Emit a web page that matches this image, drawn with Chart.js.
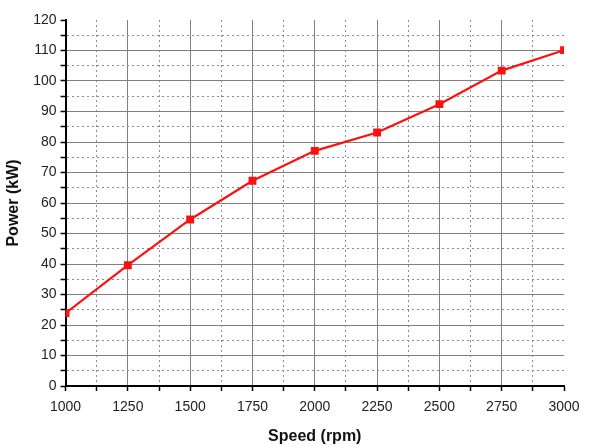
<!DOCTYPE html>
<html>
<head>
<meta charset="utf-8">
<script src="https://cdn.jsdelivr.net/npm/chart.js@4/dist/chart.umd.min.js"></script>
<style>
  html, body { margin: 0; padding: 0; background: #fff; }
  #wrap { width: 602px; height: 448px; }
</style>
</head>
<body>
<div id="wrap"><canvas id="chart"></canvas></div>
<script>
'use strict';

const speeds = [1000, 1250, 1500, 1750, 2000, 2250, 2500, 2750, 3000];
const power = [23.9, 39.6, 54.6, 67.3, 77.1, 83.1, 92.4, 103.4, 110.1];
const xTitle = 'Speed (rpm)';
const yTitle = 'Power (kW)';

const FONT = 'Liberation Sans, Arial, sans-serif';

function gridColor(max, major) {
  return ctx => {
    const v = ctx.tick && ctx.tick.value;
    if (v === undefined || v === max) return 'rgba(0,0,0,0)';
    return v % major === 0 ? '#808080' : '#8c8c8c';
  };
}
function gridDash(major) {
  return ctx => {
    const v = ctx.tick && ctx.tick.value;
    return v !== undefined && v % major === 0 ? [] : [2, 3];
  };
}

new Chart(document.getElementById('chart'), {
  type: 'line',
  data: {
    datasets: [{
      data: speeds.map((s, i) => ({ x: s, y: power[i] })),
      borderColor: '#ff1010',
      backgroundColor: '#ff1010',
      borderWidth: 2.2,
      pointStyle: 'rect',
      pointRadius: 4,
      pointHoverRadius: 4,
      tension: 0,
    }],
  },
  options: {
    responsive: true,
    maintainAspectRatio: false,
    animation: false,
    layout: { padding: { top: 20, right: 38, left: 4, bottom: 2 } },
    plugins: { legend: { display: false }, tooltip: { enabled: false } },
    scales: {
      x: {
        type: 'linear',
        min: 1000,
        max: 3000,
        grid: {
          color: gridColor(3000, 250),
          lineWidth: 1,
          tickColor: '#000',
          tickLength: 5,
          tickWidth: 1.5,
        },
        border: { display: true, color: '#000', width: 2, dash: gridDash(250) },
        ticks: {
          stepSize: 125,
          autoSkip: false,
          maxRotation: 0,
          color: '#222',
          font: { family: FONT, size: 14 },
          padding: 8,
          callback: v => (v % 250 === 0 ? v : ''),
        },
        title: {
          display: true,
          text: xTitle,
          color: '#111',
          font: { family: FONT, size: 16, weight: 'bold' },
          padding: { top: 3, bottom: 0 },
        },
      },
      y: {
        min: 0,
        max: 120,
        grid: {
          color: gridColor(120, 10),
          lineWidth: 1,
          tickColor: '#000',
          tickLength: 5,
          tickWidth: 1.5,
        },
        border: { display: true, color: '#000', width: 2, dash: gridDash(10) },
        ticks: {
          stepSize: 5,
          autoSkip: false,
          color: '#222',
          font: { family: FONT, size: 14 },
          padding: 4,
          callback: v => (v % 10 === 0 ? v : ''),
        },
        title: {
          display: true,
          text: yTitle,
          color: '#111',
          font: { family: FONT, size: 16, weight: 'bold' },
          padding: { top: 0, bottom: 6 },
        },
      },
    },
  },
});
</script>
</body>
</html>
